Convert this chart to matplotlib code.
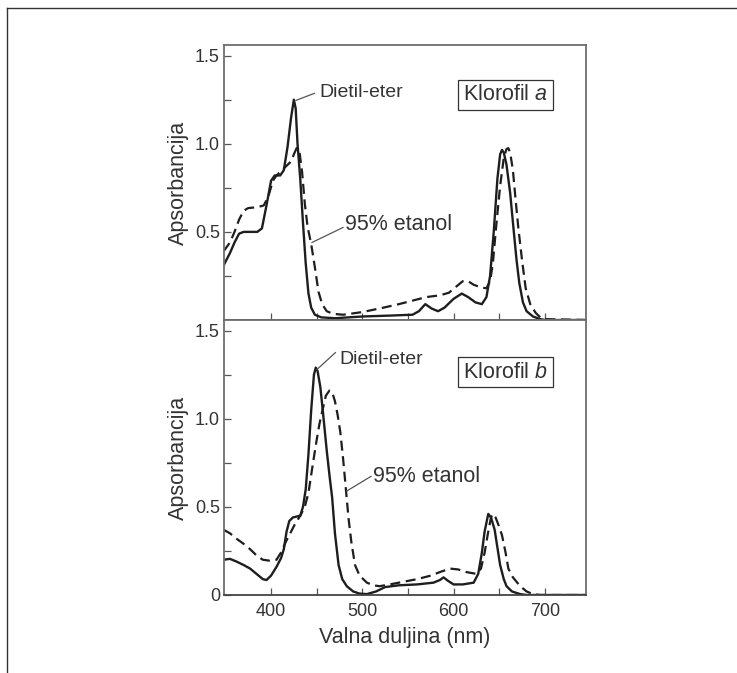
import numpy as np
import matplotlib
matplotlib.use('Agg')
import matplotlib.pyplot as plt
from matplotlib.lines import Line2D
from matplotlib.ticker import MultipleLocator, FixedLocator, FixedFormatter

plt.rcParams['font.family'] = ['Liberation Sans', 'DejaVu Sans']
plt.rcParams['mathtext.fontset'] = 'custom'
plt.rcParams['mathtext.rm'] = 'Liberation Sans'
plt.rcParams['mathtext.it'] = 'Liberation Sans:italic'

# ---------------------------------------------
#               DATA
# ---------------------------------------------

# Klorofil a, dietil-eter (solid)
a_eter_nm = [348, 355, 360, 365, 370, 378, 385, 390, 395, 400, 404, 410, 414, 418, 422, 425,
             427, 429, 432, 435, 438, 441, 444, 448, 455, 470, 500, 530, 555, 562, 569, 576,
             583, 590, 600, 609, 616, 624, 631, 636, 640, 644, 648, 651, 653, 655, 658, 662,
             666, 669, 672, 676, 680, 687, 695, 700, 745]
a_eter_abs = [0.31, 0.38, 0.44, 0.49, 0.50, 0.50, 0.50, 0.52, 0.65, 0.79, 0.82, 0.82, 0.85, 0.98, 1.15, 1.25,
              1.20, 1.00, 0.80, 0.55, 0.32, 0.15, 0.07, 0.03, 0.015, 0.01, 0.02, 0.025, 0.03, 0.05, 0.09, 0.065,
              0.05, 0.07, 0.12, 0.15, 0.13, 0.10, 0.09, 0.13, 0.25, 0.50, 0.80, 0.94, 0.965, 0.95, 0.88, 0.72,
              0.50, 0.34, 0.21, 0.10, 0.05, 0.02, 0.005, 0.0, 0.0]

# Klorofil a, 95% etanol (dashed)
a_etanol_nm = [348, 355, 360, 365, 370, 375, 385, 392, 397, 402, 406, 412, 418, 422, 425, 428,
               431, 434, 437, 440, 444, 448, 452, 456, 461, 468, 479, 500, 523, 540, 555, 570,
               585, 595, 603, 610, 616, 622, 630, 636, 640, 643, 647, 651, 655, 658, 660, 662,
               665, 668, 671, 675, 679, 684, 690, 695, 700, 745]
a_etanol_abs = [0.39, 0.44, 0.50, 0.57, 0.62, 0.635, 0.64, 0.65, 0.70, 0.79, 0.82, 0.85, 0.88, 0.90, 0.94, 0.975,
                0.96, 0.84, 0.66, 0.53, 0.43, 0.30, 0.16, 0.09, 0.05, 0.035, 0.03, 0.045, 0.07, 0.09, 0.11, 0.13,
                0.14, 0.155, 0.19, 0.22, 0.22, 0.20, 0.185, 0.18, 0.22, 0.32, 0.55, 0.76, 0.92, 0.97, 0.975, 0.95,
                0.85, 0.68, 0.52, 0.34, 0.18, 0.09, 0.04, 0.015, 0.005, 0.0]

# Klorofil b, dietil-eter (solid)
b_eter_nm = [348, 355, 362, 370, 377, 384, 391, 395, 400, 406, 411, 414, 417, 420, 424, 428,
             432, 435, 438, 441, 444, 447, 449, 451, 454, 457, 461, 464, 467, 470, 474, 478,
             483, 490, 497, 505, 515, 525, 540, 560, 578, 585, 589, 594, 600, 610, 622, 627,
             631, 634, 638, 641, 645, 648, 651, 655, 658, 664, 673, 680, 745]
b_eter_abs = [0.20, 0.205, 0.19, 0.17, 0.15, 0.12, 0.09, 0.085, 0.11, 0.16, 0.21, 0.26, 0.36, 0.42, 0.44, 0.445,
              0.45, 0.50, 0.60, 0.80, 1.05, 1.25, 1.29, 1.27, 1.18, 1.03, 0.82, 0.68, 0.55, 0.35, 0.17, 0.09,
              0.05, 0.02, 0.008, 0.005, 0.02, 0.045, 0.055, 0.06, 0.07, 0.085, 0.10, 0.08, 0.06, 0.06, 0.07, 0.12,
              0.24, 0.36, 0.46, 0.44, 0.37, 0.27, 0.17, 0.09, 0.05, 0.02, 0.005, 0.0, 0.0]

# Klorofil b, 95% etanol (dashed)
b_etanol_nm = [348, 355, 362, 370, 377, 385, 391, 398, 406, 412, 416, 421, 426, 432, 437, 441,
               446, 450, 453, 456, 460, 464, 467, 470, 473, 476, 479, 482, 485, 488, 492, 497,
               505, 512, 519, 530, 545, 560, 575, 585, 596, 605, 614, 625, 630, 634, 638, 641,
               643, 646, 649, 653, 657, 660, 665, 673, 680, 687, 695, 745]
b_etanol_abs = [0.37, 0.35, 0.32, 0.29, 0.26, 0.22, 0.20, 0.195, 0.20, 0.25, 0.30, 0.35, 0.40, 0.45, 0.50, 0.58,
                0.75, 0.88, 0.97, 1.04, 1.13, 1.16, 1.15, 1.10, 1.02, 0.92, 0.77, 0.60, 0.43, 0.30, 0.17, 0.11,
                0.07, 0.055, 0.05, 0.06, 0.075, 0.09, 0.11, 0.13, 0.15, 0.145, 0.13, 0.12, 0.15, 0.24, 0.36, 0.44,
                0.46, 0.44, 0.40, 0.34, 0.24, 0.15, 0.10, 0.05, 0.02, 0.005, 0.0, 0.0]

panels = [
    (a_eter_nm, a_eter_abs, a_etanol_nm, a_etanol_abs, 'Klorofil $\\mathit{a}$'),
    (b_eter_nm, b_eter_abs, b_etanol_nm, b_etanol_abs, 'Klorofil $\\mathit{b}$'),
]

# annotation spots: (text xy, leader start, leader end) in data coords
eter_notes = [((452.6, 1.29), (427.4, 1.246), (447.5, 1.286)),
              ((474.5, 1.336), (450.4, 1.28), (470.5, 1.375))]
etanol_notes = [((481.0, 0.54), (444.9, 0.44), (478.9, 0.525)),
                ((511.7, 0.673), (483.0, 0.59), (509.5, 0.673))]
box_pos = [(656.8, 1.277), (656.8, 1.265)]

# ---------------------------------------------
#               CREATE GRAPH
# ---------------------------------------------

fig = plt.figure(figsize=(7.37, 6.73), dpi=100)
ax_top = fig.add_axes([0.304, 0.5245, 0.491, 0.4086])
ax_bot = fig.add_axes([0.304, 0.1159, 0.491, 0.4086], sharex=ax_top)

line_col = '#1e1e1e'
spine_col = '#6e6e6e'
text_col = '#333333'

for i, ax in enumerate([ax_top, ax_bot]):
    x1, y1, x2, y2, box_txt = panels[i]
    ax.plot(x1, y1, color=line_col, lw=1.7, solid_capstyle='round')
    ax.plot(x2, y2, color=line_col, lw=1.6, dashes=(4.5, 2.5))

    ax.set_xlim(348.5, 745)
    ax.set_ylim(0, 1.56)
    ax.xaxis.set_major_locator(FixedLocator([400, 500, 600, 700]))
    ax.xaxis.set_minor_locator(FixedLocator([450, 550, 650]))
    ax.yaxis.set_minor_locator(MultipleLocator(0.25))
    ax.tick_params(which='both', direction='in', color='#555555', width=0.9,
                   length=5, labelsize=13, labelcolor=text_col, pad=3)
    ax.tick_params(axis='x', pad=6)
    for sp in ax.spines.values():
        sp.set_color(spine_col)
        sp.set_linewidth(1.3)
    ax.spines['bottom'].set_color('#444444')

    ax.set_ylabel('Apsorbancija', fontsize=15.5, color=text_col, labelpad=4)

    # leader lines + labels
    txy, p0, p1 = eter_notes[i]
    ax.plot([p0[0], p1[0]], [p0[1], p1[1]], color='#555555', lw=0.9)
    ax.text(txy[0], txy[1], 'Dietil-eter', fontsize=14, color=text_col,
            ha='left', va='center')
    txy, p0, p1 = etanol_notes[i]
    ax.plot([p0[0], p1[0]], [p0[1], p1[1]], color='#555555', lw=0.9)
    ax.text(txy[0], txy[1], '95% etanol', fontsize=15.5, color=text_col,
            ha='left', va='center')

    ax.text(box_pos[i][0], box_pos[i][1], box_txt, fontsize=15.5, color=text_col,
            ha='center', va='center',
            bbox=dict(boxstyle='square,pad=0.22', fc='white', ec='#333333', lw=0.9))

ax_top.set_yticks([0.5, 1.0, 1.5])
ax_top.set_yticklabels(['0.5', '1.0', '1.5'])
ax_top.tick_params(axis='x', labelbottom=False)

ax_bot.yaxis.set_major_locator(FixedLocator([0, 0.5, 1.0, 1.5]))
ax_bot.yaxis.set_major_formatter(FixedFormatter(['0', '0.5', '1.0', '1.5']))
ax_bot.set_xlabel('Valna duljina (nm)', fontsize=15.5, color=text_col, labelpad=5)

# outer frame (top and left only)
fig.add_artist(Line2D([7 / 737, 1.0], [1 - 8 / 673, 1 - 8 / 673], color='#333333', lw=1.0))
fig.add_artist(Line2D([7 / 737, 7 / 737], [0.0, 1 - 8 / 673], color='#333333', lw=1.0))

plt.savefig('out.png', dpi=100)
